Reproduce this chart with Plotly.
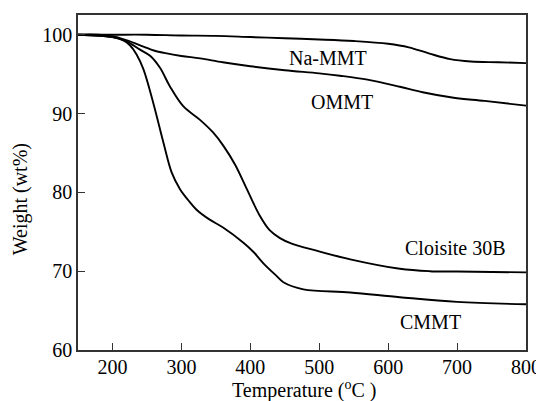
import plotly.graph_objects as go

# Data
temp_na = [150, 200, 250, 300, 350, 400, 450, 500, 550, 600, 630, 660, 690, 720, 760, 800]
w_na = [100, 100, 100, 99.9, 99.85, 99.7, 99.55, 99.4, 99.2, 98.85, 98.4, 97.6, 96.9, 96.6, 96.5, 96.4]

temp_ommt = [150, 180, 200, 220, 245, 260, 275, 300, 327, 360, 400, 450, 500, 530, 570, 617, 650, 695, 740, 800]
w_ommt = [100, 100, 99.8, 99.3, 98.5, 98.0, 97.7, 97.3, 97.0, 96.5, 96.0, 95.5, 95.1, 94.8, 94.3, 93.4, 92.7, 92.0, 91.6, 91.0]

temp_c30b = [150, 200, 220, 240, 255, 269, 283, 303, 327, 346, 361, 378, 395, 414, 428, 443, 460, 496, 545, 617, 660, 700, 800]
w_c30b = [100, 99.7, 99.2, 98.1, 97.3, 95.8, 93.5, 90.9, 89.2, 87.6, 85.9, 83.5, 80.4, 77.0, 75.2, 74.2, 73.5, 72.6, 71.5, 70.3, 70.0, 69.95, 69.85]

temp_cmmt = [150, 200, 215, 225, 235, 245, 259, 274, 286, 298, 310, 322, 340, 361, 390, 405, 419, 438, 448, 477, 545, 617, 700, 800]
w_cmmt = [100, 99.7, 99.3, 98.7, 97.5, 95.6, 91.4, 86.3, 82.5, 80.4, 79.0, 77.8, 76.6, 75.5, 73.6, 72.4, 71.0, 69.4, 68.6, 67.7, 67.3, 66.7, 66.1, 65.8]

labels = ["Na-MMT", "OMMT", "Cloisite 30B", "CMMT"]
label_x = [513, 533, 697, 662]
label_y = [97.1, 91.5, 73.0, 63.6]

x_ticks = [200, 300, 400, 500, 600, 700, 800]
y_ticks = [60, 70, 80, 90, 100]

FONT = "Liberation Serif, Times New Roman, serif"
FS = 20

fig = go.Figure()
for tx, wy in [(temp_na, w_na), (temp_ommt, w_ommt), (temp_c30b, w_c30b), (temp_cmmt, w_cmmt)]:
    fig.add_trace(go.Scatter(x=tx, y=wy, mode="lines",
                             line=dict(color="black", width=1.9, shape="spline", smoothing=1.0),
                             showlegend=False, hoverinfo="skip"))

for t, lx, ly in zip(labels, label_x, label_y):
    fig.add_annotation(x=lx, y=ly, text=t, showarrow=False,
                       font=dict(family=FONT, size=FS, color="black"))

# axis titles
fig.add_annotation(xref="paper", yref="paper", x=0.505, y=0, yshift=-39, yanchor="middle",
                   text="Temperature (<sup>o</sup>C )", showarrow=False,
                   font=dict(family=FONT, size=FS, color="black"))
fig.add_annotation(xref="paper", yref="paper", x=0, y=0.45, xshift=-58, xanchor="center",
                   yanchor="middle", textangle=-90, text="Weight (wt%)", showarrow=False,
                   font=dict(family=FONT, size=FS, color="black"))

axis_common = dict(showgrid=False, zeroline=False, showline=True, linecolor="#333",
                   linewidth=1.5, mirror=True, ticks="inside", ticklen=7, tickwidth=1.3,
                   tickcolor="#333", automargin=False,
                   tickfont=dict(family=FONT, size=FS, color="black"))

fig.update_xaxes(range=[150, 800], tickvals=x_ticks, ticklabelstandoff=-2, **axis_common)
fig.update_yaxes(range=[60, 102.5], tickvals=y_ticks, **axis_common)

# page body has an 8px default margin, so the figure is sized to fit the 544x401 window
fig.update_layout(width=536, height=393, margin=dict(l=70, r=18, t=7, b=51),
                  plot_bgcolor="white", paper_bgcolor="white")

fig.write_html("out.html")
